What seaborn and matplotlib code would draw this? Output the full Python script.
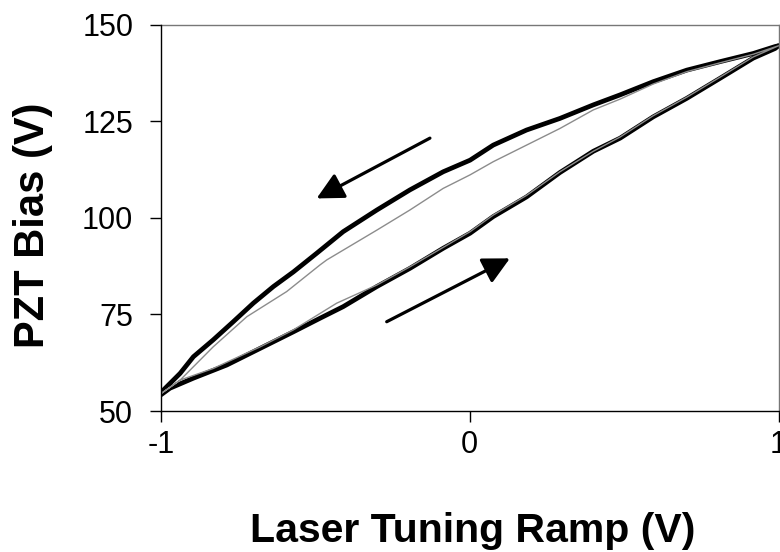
import matplotlib
matplotlib.use("Agg")
import matplotlib.pyplot as plt
import seaborn as sns
import pandas as pd

# ---- data ----
# forward sweep (lower black trace)
up_x = [-1.0, -0.971, -0.895, -0.787, -0.679, -0.571, -0.485, -0.410, -0.301,
        -0.194, -0.086, 0.001, 0.076, 0.184, 0.292, 0.400, 0.487, 0.594,
        0.703, 0.811, 0.918, 0.989, 1.0]
up_y = [54.2, 55.9, 58.5, 61.9, 66.2, 70.5, 74.0, 77.0, 82.2,
        86.9, 92.1, 96.0, 100.3, 105.4, 111.7, 117.2, 120.6, 126.1,
        130.9, 136.1, 141.3, 143.8, 144.5]
# return sweep (upper black trace)
down_x = [1.0, 0.989, 0.918, 0.811, 0.703, 0.594, 0.487, 0.400, 0.292, 0.184,
          0.076, 0.001, -0.086, -0.194, -0.301, -0.410, -0.496, -0.571,
          -0.636, -0.701, -0.766, -0.831, -0.895, -0.938, -1.0]
down_y = [144.5, 144.3, 142.5, 140.4, 138.2, 135.2, 131.8, 129.2, 125.7, 122.7,
          118.8, 114.9, 111.9, 107.2, 102.0, 96.4, 90.8, 86.0,
          82.2, 77.9, 73.1, 68.4, 64.05, 59.75, 54.8]
# model loop (thin grey)
model_x = [-1.0, -0.938, -0.831, -0.722, -0.593, -0.485, -0.463, -0.301, -0.194,
           -0.086, 0.001, 0.076, 0.184, 0.292, 0.400, 0.487, 0.594, 0.703,
           0.811, 0.918, 1.0,
           0.918, 0.811, 0.703, 0.594, 0.487, 0.400, 0.292, 0.184, 0.076,
           0.001, -0.194, -0.301, -0.431, -0.571, -0.679, -0.831, -0.938, -1.0]
model_y = [54.5, 58.0, 66.6, 74.4, 80.9, 87.8, 89.1, 96.8, 102.0,
           107.6, 111.1, 114.5, 118.8, 123.1, 127.9, 130.7, 134.6, 137.8,
           140.1, 142.3, 144.5,
           141.6, 136.4, 131.2, 126.4, 120.9, 117.2, 111.9, 105.8, 100.7,
           96.4, 87.3, 82.6, 77.9, 71.0, 66.6, 61.0, 58.0, 54.5]

x_ticks = [-1, 0, 1]
y_ticks = [50, 75, 100, 125, 150]

sns.set_theme(style="white")
plt.rcParams["font.family"] = ["Liberation Sans", "DejaVu Sans"]

fig = plt.figure(figsize=(7.8, 5.52), dpi=100)
ax = fig.add_axes([0.2064, 0.2554, 0.7917, 0.7002])

up_df = pd.DataFrame({"x": up_x, "y": up_y})
down_df = pd.DataFrame({"x": down_x, "y": down_y})
model_df = pd.DataFrame({"x": model_x, "y": model_y})

sns.lineplot(data=up_df, x="x", y="y", sort=False, estimator=None, ax=ax,
             color="black", lw=3.4, solid_joinstyle="round")
sns.lineplot(data=down_df, x="x", y="y", sort=False, estimator=None, ax=ax,
             color="black", lw=3.4, solid_joinstyle="round")
sns.lineplot(data=model_df, x="x", y="y", sort=False, estimator=None, ax=ax,
             color="#8c8c8c", lw=1.0)

# direction arrows
arrow_kw = dict(arrowstyle="-|>,head_length=0.65,head_width=0.33",
                color="black", lw=2.3, mutation_scale=25, shrinkA=0, shrinkB=0)
ax.annotate("", xy=(-0.496, 105.0), xytext=(-0.129, 120.6), arrowprops=arrow_kw)
ax.annotate("", xy=(0.130, 89.5), xytext=(-0.269, 73.1), arrowprops=arrow_kw)

ax.set_xlim(-1, 1)
ax.set_ylim(50, 150)
ax.set_xticks(x_ticks)
ax.set_xticklabels([str(v) for v in x_ticks])
ax.set_yticks(y_ticks)
ax.set_yticklabels([str(v) for v in y_ticks])

for s in ["left", "bottom"]:
    ax.spines[s].set_color("black")
    ax.spines[s].set_linewidth(1.0)
for s in ["top", "right"]:
    ax.spines[s].set_color("#777777")
    ax.spines[s].set_linewidth(1.0)
ax.spines["left"].set_zorder(5)

ax.tick_params(axis="both", which="major", direction="out", length=8,
               width=1.0, color="black", labelsize=22, labelcolor="black",
               left=True, bottom=True)
ax.tick_params(axis="y", pad=12)
ax.tick_params(axis="x", pad=6)

ax.set_xlabel("Laser Tuning Ramp (V)", fontsize=29.5, fontweight="bold", color="black")
ax.set_ylabel("PZT Bias (V)", fontsize=30, fontweight="bold", color="black")
ax.xaxis.set_label_coords(0.505, -0.262)
ax.yaxis.set_label_coords(-0.175, 0.48)

fig.savefig("out.png", dpi=100)
